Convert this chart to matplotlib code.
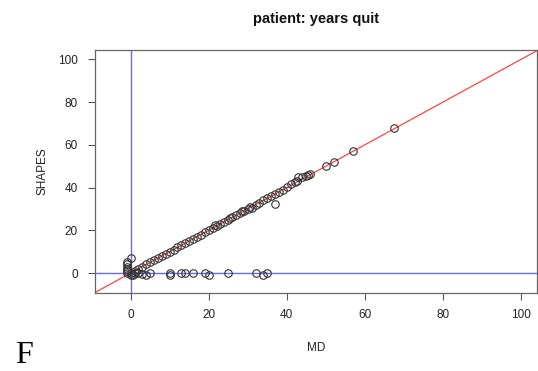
import matplotlib
matplotlib.use("Agg")
import matplotlib.pyplot as plt
import numpy as np

title = "patient: years quit"
x_label = "MD"
y_label = "SHAPES"
ticks = [0, 20, 40, 60, 80, 100]
axis_limits = (-5, 100)

# points lying on (or close to) the diagonal
diag_md = [1, 2, 3, 4, 5, 6, 7, 8, 9, 10, 11, 12, 13, 14, 15, 16, 17, 18, 19, 20,
           21, 21.5, 22, 23, 24, 25, 25.5, 26, 27, 28, 28.5, 29, 30, 30.5, 31, 32, 33,
           34, 35, 36, 37, 38, 39, 40, 41, 42, 42.5, 43, 44, 45, 45.5, 46, 50, 52, 57, 67.5]
diag_shapes = [1, 2, 3, 4, 5, 6, 7, 8, 9, 10, 11, 12, 13, 14, 15, 16, 17, 18, 19, 20,
               21, 22.5, 22, 23, 24, 25, 25.8, 26, 27, 28, 29, 29, 30, 31, 30.5, 32, 33,
               34, 35, 36, 37, 38, 39, 40.5, 41.5, 42.5, 43, 45, 45, 45.5, 46, 46.5, 50, 52, 57, 68]

# other points (off the diagonal)
other_md = [37, -1, -1, -1, -1, -1, 0, 0, -1, 0, 1, 2, 0.5, 3, 4, 5,
            10, 10, 13, 14, 16, 19, 20, 25, 32, 34, 35]
other_shapes = [32.5, 5, 4, 3, 2, 1, 7, 0, 0, -1, 0, 0, -1, -0.5, -1, 0,
                0, -1, 0, 0, 0, 0, -1, 0, 0, -1, 0]

W, H = 538, 371
fig = plt.figure(figsize=(W / 100, H / 100), dpi=100)
plt.rcParams['font.family'] = ['Liberation Sans', 'DejaVu Sans']

left, right, top, bottom = 94.7, 537.4, 50.4, 292.7
ax = fig.add_axes([left / W, 1 - bottom / H, (right - left) / W, (bottom - top) / H])

pad = 0.04 * (axis_limits[1] - axis_limits[0])
lo, hi = axis_limits[0] - pad, axis_limits[1] + pad
ax.set_xlim(lo, hi)
ax.set_ylim(lo, hi)

ax.axhline(0, color='#6a6aff', lw=1.0, zorder=1)
ax.axvline(0, color='#6a6aff', lw=1.0, zorder=1)
ax.plot([lo, hi], [lo, hi], color='#ff4545', lw=0.9, zorder=2)

mk = dict(linestyle='none', marker='o', markersize=5.4, markerfacecolor='none',
          markeredgecolor='#333333', markeredgewidth=0.8, zorder=3)
ax.plot(diag_md, diag_shapes, **mk)
ax.plot(other_md, other_shapes, **mk)

ax.set_xticks(ticks)
ax.set_yticks(ticks)
ax.tick_params(direction='out', length=5, width=0.8, color='#555555',
               labelsize=8.5, labelcolor='#222222', pad=7)
for s in ax.spines.values():
    s.set_color('#666666')
    s.set_linewidth(0.9)

fig.text(316 / W, 1 - 19 / H, title, ha='center', va='center',
         fontsize=10.5, fontweight='bold', color='#111111')
fig.text(316 / W, 1 - 348 / H, x_label, ha='center', va='center',
         fontsize=8.5, color='#222222')
fig.text(42 / W, 1 - 171 / H, y_label, ha='center', va='center',
         rotation=90, fontsize=8.5, color='#222222')
fig.text(15 / W, 1 - 363 / H, "F", ha='left', va='baseline',
         fontsize=23, family='Liberation Serif', color='black')

fig.savefig("out.png", dpi=100)
